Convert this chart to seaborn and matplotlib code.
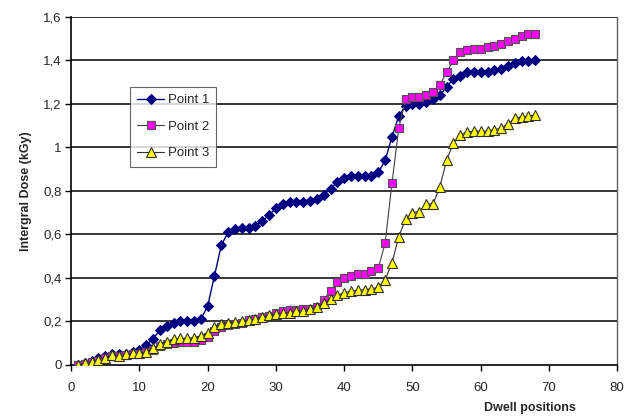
import numpy as np
import pandas as pd
import matplotlib
matplotlib.use('Agg')
import matplotlib.pyplot as plt
import seaborn as sns
from matplotlib.ticker import FuncFormatter

# Dwell positions 1..68
posicoes = list(range(1, 69))

point_1 = [0.00, 0.01, 0.02, 0.03, 0.04, 0.05, 0.05, 0.05, 0.06, 0.07,
           0.09, 0.12, 0.16, 0.18, 0.195, 0.20, 0.20, 0.20, 0.21, 0.27,
           0.41, 0.55, 0.61, 0.625, 0.63, 0.63, 0.64, 0.66, 0.69, 0.72,
           0.74, 0.75, 0.75, 0.75, 0.755, 0.763, 0.78, 0.81, 0.84, 0.86,
           0.87, 0.87, 0.87, 0.87, 0.885, 0.94, 1.047, 1.145, 1.19, 1.20,
           1.20, 1.21, 1.22, 1.24, 1.277, 1.315, 1.33, 1.345, 1.345, 1.345,
           1.345, 1.356, 1.36, 1.375, 1.387, 1.398, 1.398, 1.40]

point_2 = [0.00, 0.005, 0.012, 0.02, 0.03, 0.04, 0.04, 0.045, 0.05, 0.05,
           0.058, 0.07, 0.085, 0.095, 0.10, 0.105, 0.105, 0.107, 0.115, 0.13,
           0.155, 0.175, 0.185, 0.19, 0.195, 0.205, 0.21, 0.22, 0.225, 0.24,
           0.248, 0.253, 0.253, 0.256, 0.256, 0.268, 0.30, 0.34, 0.38, 0.40,
           0.41, 0.42, 0.42, 0.43, 0.445, 0.56, 0.835, 1.09, 1.22, 1.23,
           1.23, 1.24, 1.255, 1.285, 1.345, 1.40, 1.437, 1.448, 1.45, 1.45,
           1.46, 1.467, 1.474, 1.49, 1.50, 1.51, 1.52, 1.52]

point_3 = [0.00, 0.008, 0.015, 0.023, 0.034, 0.046, 0.043, 0.05, 0.053, 0.053,
           0.06, 0.076, 0.095, 0.107, 0.118, 0.122, 0.122, 0.125, 0.135, 0.146,
           0.176, 0.19, 0.195, 0.197, 0.20, 0.205, 0.21, 0.22, 0.23, 0.233,
           0.237, 0.24, 0.248, 0.248, 0.256, 0.268, 0.283, 0.303, 0.32, 0.333,
           0.338, 0.345, 0.345, 0.35, 0.357, 0.39, 0.47, 0.59, 0.67, 0.70,
           0.705, 0.74, 0.74, 0.816, 0.94, 1.02, 1.057, 1.07, 1.075, 1.075,
           1.075, 1.08, 1.09, 1.107, 1.134, 1.14, 1.143, 1.15]

df = pd.DataFrame({'pos': posicoes, 'Point 1': point_1,
                   'Point 2': point_2, 'Point 3': point_3})

sns.set_style('white')
plt.rcParams['font.family'] = ['Liberation Sans', 'DejaVu Sans']

fig = plt.figure(figsize=(6.35, 4.2), dpi=100)
ax = fig.add_axes([0.112, 0.131, 0.860, 0.829])

# Horizontal gridlines behind the data
for yv in np.arange(0.2, 1.61, 0.2):
    ax.axhline(yv, color='black', lw=1.1, zorder=0)

sns.lineplot(data=df, x='pos', y='Point 1', ax=ax, color='#000080', lw=1.0,
             marker='D', markersize=5.5, markerfacecolor='#000080',
             markeredgecolor='#000080', label='Point 1', zorder=3)
sns.lineplot(data=df, x='pos', y='Point 2', ax=ax, color='#404040', lw=0.8,
             marker='s', markersize=5.5, markerfacecolor='#FF00FF',
             markeredgecolor='#505050', markeredgewidth=0.8,
             label='Point 2', zorder=4)
sns.lineplot(data=df, x='pos', y='Point 3', ax=ax, color='#303030', lw=0.8,
             marker='^', markersize=6.5, markerfacecolor='#FFFF00',
             markeredgecolor='#303030', markeredgewidth=0.8,
             label='Point 3', zorder=5)

ax.set_xlim(0, 80)
ax.set_ylim(0, 1.6)
ax.set_xticks(range(0, 81, 10))
ax.set_yticks(np.arange(0, 1.61, 0.2))
ax.yaxis.set_major_formatter(FuncFormatter(
    lambda v, p: '0' if abs(v) < 1e-9 else ('1' if abs(v - 1) < 1e-9 else f'{v:.1f}'.replace('.', ','))))
ax.tick_params(axis='both', direction='out', length=4, width=1, color='black',
               labelsize=9.5, pad=3, bottom=True, left=True)
ax.tick_params(axis='x', pad=8)

for lado in ['left', 'bottom']:
    ax.spines[lado].set_color('black')
    ax.spines[lado].set_linewidth(1.2)
ax.spines['top'].set_visible(False)
ax.spines['right'].set_color('#606060')
ax.spines['right'].set_linewidth(1.0)

ax.set_xlabel('')
ax.set_ylabel('Intergral Dose (kGy)', fontsize=9, fontweight='bold', labelpad=8)
fig.text(0.835, 0.028, 'Dwell positions', fontsize=9, fontweight='bold',
         ha='center', va='center')

leg = ax.legend(loc='upper left', bbox_to_anchor=(0.205, 0.793),
                bbox_transform=fig.transFigure, frameon=True, fancybox=False,
                edgecolor='#404040', fontsize=9.5, handlelength=2.0,
                handletextpad=0.3, borderpad=0.55, labelspacing=1.08,
                borderaxespad=0)
leg.get_frame().set_linewidth(0.8)
leg.set_zorder(10)

fig.savefig('out.png', dpi=100, facecolor='white')
